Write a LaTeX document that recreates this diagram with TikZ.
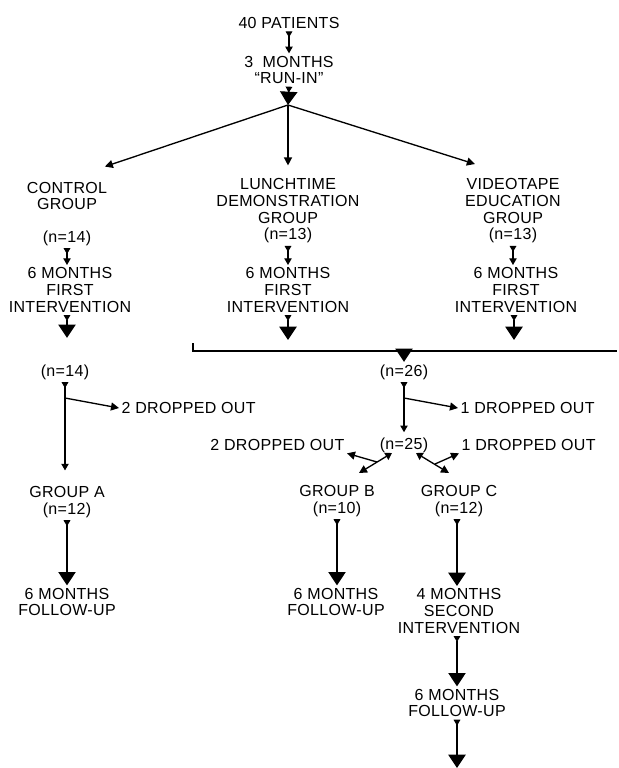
\documentclass[tikz,border=0pt]{standalone}
\usepackage{fontspec}
\setmainfont{Liberation Sans}[LetterSpace=2]
\usetikzlibrary{arrows.meta}
\newcommand\figfont{\fontsize{12pt}{12.5pt}\selectfont}
\tikzset{
  txt/.style={font=\figfont, align=center, inner sep=0pt, outer sep=2pt},
  sarr/.style={line width=0.85pt, arrows={Triangle[reversed,width=5pt,length=4.5pt]-Triangle[width=5.5pt,length=5pt]}},
  barr/.style={line width=0.85pt, arrows={Triangle[reversed,width=5pt,length=4.5pt]-Triangle[width=13pt,length=10pt]}},
  bonly/.style={line width=0.85pt, arrows={-Triangle[width=13pt,length=10pt]}},
  darr/.style={line width=1pt, arrows={-Triangle[width=6pt,length=6pt]}},
  xarr/.style={line width=1pt, arrows={Triangle[width=6pt,length=5pt]-Triangle[width=6pt,length=6pt]}},
  brk/.style={line width=0.85pt}
}
\begin{document}
\begin{tikzpicture}[x=0.75pt,y=-0.75pt]
\useasboundingbox (0,0) rectangle (618,768);
% top
\node[txt] (pat) at (289,23) {40 PATIENTS};
\node[txt] (run) at (289,70) {3\ \ MONTHS\\“RUN-IN”};
\coordinate (apex) at (288,105);
% groups
\node[txt] (ctrl) at (67,196) {CONTROL\\GROUP};
\node[txt] (n14a) at (67,238) {(n=14)};
\node[txt] (lunch) at (288,211) {LUNCHTIME\\DEMONSTRATION\\GROUP\\(n=13)};
\node[txt] (video) at (513,211) {VIDEOTAPE\\EDUCATION\\GROUP\\(n=13)};
\node[txt] (int1) at (70,290) {6 MONTHS\\FIRST\\INTERVENTION};
\node[txt] (int2) at (288,290) {6 MONTHS\\FIRST\\INTERVENTION};
\node[txt] (int3) at (516,290) {6 MONTHS\\FIRST\\INTERVENTION};
\coordinate (e2) at (288,340);
\coordinate (e3) at (514,340);
% bracket
\coordinate (bl) at (193,343);
\coordinate (bl2) at (193,351);
\coordinate (br) at (617,351);
\coordinate (bm) at (404,351);
% second level
\node[txt] (n14b) at (65,372) {(n=14)};
\node[txt] (n26) at (404,372) {(n=26)};
\node[txt, anchor=west] (drop1) at (119,408) {2 DROPPED OUT};
\node[txt, anchor=west] (drop2) at (458,408) {1 DROPPED OUT};
\node[txt] (n25) at (404,445) {(n=25)};
\node[txt, anchor=east] (drop3) at (347,445) {2 DROPPED OUT};
\node[txt, anchor=west] (drop4) at (459,445) {1 DROPPED OUT};
\coordinate (b1) at (65,398);
\coordinate (b2) at (404,398);
\coordinate (xl) at (392,453);
\coordinate (xlh) at (359,473);
\coordinate (xlm) at (377,462);
\coordinate (xr) at (416,453);
\coordinate (xrh) at (449,473);
\coordinate (xrm) at (435,464);
% groups A B C
\node[txt] (grpA) at (67,502) {GROUP A\\(n=12)};
\node[txt] (grpB) at (337,501) {GROUP B\\(n=10)};
\node[txt] (grpC) at (459,501) {GROUP C\\(n=12)};
\node[txt] (fuA) at (67,602) {6 MONTHS\\FOLLOW-UP};
\node[txt] (fuB) at (336,602) {6 MONTHS\\FOLLOW-UP};
\node[txt] (secC) at (459,611) {4 MONTHS\\SECOND\\INTERVENTION};
\node[txt] (fuC) at (457,703) {6 MONTHS\\FOLLOW-UP};
\coordinate (endC) at (457,768);
% connectors
\draw[sarr] (pat.south) -- (run.north);
\draw[barr] (run.south) -- (apex);
\draw[darr, shorten >=30pt] (apex) -- (ctrl.north);
\draw[darr, shorten >=8pt] (apex) -- (lunch.north);
\draw[darr, shorten >=30pt] (apex) -- (video.north);
\draw[sarr] (n14a.south) -- (int1.north -| n14a.south);
\draw[sarr] (lunch.south) -- (int2.north);
\draw[sarr] (video.south) -- (int3.north -| video.south);
\draw[barr, shorten >=18pt] (int1.south -| n14a.south) -- (n14b.north -| n14a.south);
\draw[barr] (int2.south) -- (e2);
\draw[barr] (int3.south -| e3) -- (e3);
\draw[brk] (bl) -- (bl2) -- (br);
\draw[bonly] (bm) -- (n26.north);
\draw[sarr, shorten >=10pt] (n14b.south) -- (grpA.north -| n14b.south);
\draw[darr] (b1) -- (drop1.west);
\draw[sarr, shorten >=2pt] (n26.south) -- (n25.north);
\draw[darr] (b2) -- (drop2.west);
\draw[xarr] (xl) -- (xlh);
\draw[darr] (xlm) -- (drop3.south east);
\draw[xarr] (xr) -- (xrh);
\draw[darr] (xrm) -- (drop4.south west);
\draw[barr] (grpA.south) -- (fuA.north);
\draw[barr] (grpB.south) -- (fuB.north -| grpB.south);
\draw[barr] (grpC.south -| fuC.north) -- (secC.north -| fuC.north);
\draw[barr] (secC.south -| fuC.north) -- (fuC.north);
\draw[barr] (fuC.south) -- (endC);
\end{tikzpicture}
\end{document}
